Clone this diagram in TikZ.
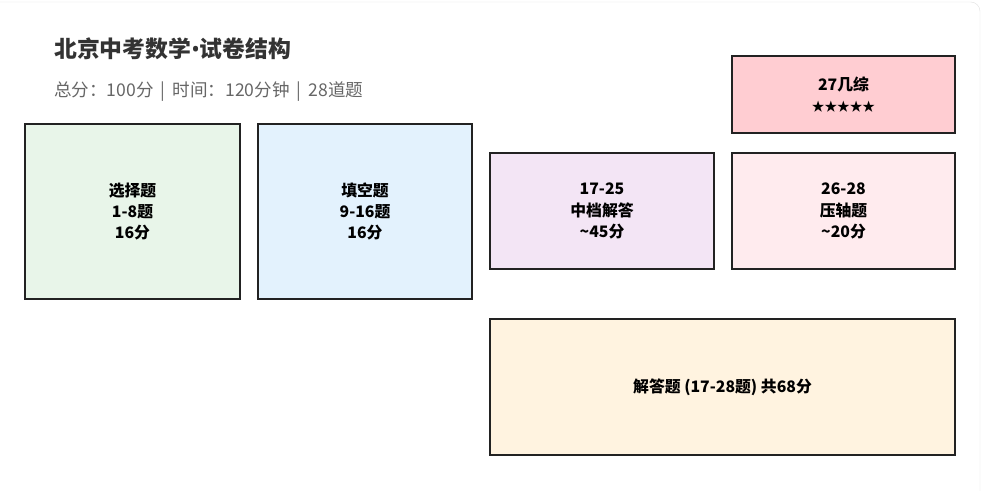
\documentclass[tikz,border=0pt]{standalone}
\usepackage{fontspec}
\setmainfont{Noto Sans CJK SC}
\newfontfamily\dotfont{Noto Sans}
\newcommand\infobar{\hspace{0.4em}|\hspace{0.4em}}
\definecolor{cardline}{HTML}{E3E3E3}
\definecolor{boxline}{HTML}{222222}
\definecolor{titlegray}{HTML}{333333}
\definecolor{infogray}{HTML}{666666}
\definecolor{xuanze}{HTML}{E8F5E9}
\definecolor{tiankong}{HTML}{E3F2FD}
\definecolor{zhongdang}{HTML}{F3E5F5}
\definecolor{yazhou}{HTML}{FFEBEE}
\definecolor{jizong}{HTML}{FFCDD2}
\definecolor{jieda}{HTML}{FFF3E0}
\tikzset{part/.style={draw=boxline, line width=1.6pt, align=center, inner sep=0pt,
  font=\bfseries\fontsize{13.5}{18}\selectfont, text=black}}

\begin{document}
\begin{tikzpicture}[x=0.03cm,y=-0.03cm]
\useasboundingbox (0,0) rectangle (981,490);
\draw[cardline, rounded corners=8] (-10,2) rectangle (980,520);
\node[anchor=base west, inner sep=0pt, text=titlegray, font=\bfseries\fontsize{19.5}{22}\selectfont] (title) at (54,57) {北京中考数学{\dotfont\bfseries •}试卷结构};
\node[anchor=base west, inner sep=0pt, text=infogray, font=\fontsize{15}{17}\selectfont] (info) at (54,96) {总分：100分\infobar 时间：120分钟\infobar 28道题};
\node[part, fill=xuanze, minimum width=6.45cm, minimum height=5.25cm] (xuanze) at (132.5,211.5) {选择题\\1-8题\\16分};
\node[part, fill=tiankong, minimum width=6.42cm, minimum height=5.25cm] (tiankong) at (365,211.5) {填空题\\9-16题\\16分};
\node[part, fill=zhongdang, minimum width=6.72cm, minimum height=3.48cm] (zhongdang) at (602,211) {17-25\\中档解答\\\textasciitilde45分};
\node[part, fill=yazhou, minimum width=6.69cm, minimum height=3.48cm] (yazhou) at (843.5,211) {26-28\\压轴题\\\textasciitilde20分};
\node[part, fill=jizong, minimum width=6.69cm, minimum height=2.31cm] (jizong) at (843.5,94.5) {27几综\\{\fontsize{10.8}{14}\selectfont ★★★★★}};
\node[part, fill=jieda, minimum width=13.95cm, minimum height=4.08cm] (jieda) at (722.5,387) {解答题 (17-28题) 共68分};
\end{tikzpicture}
\end{document}
